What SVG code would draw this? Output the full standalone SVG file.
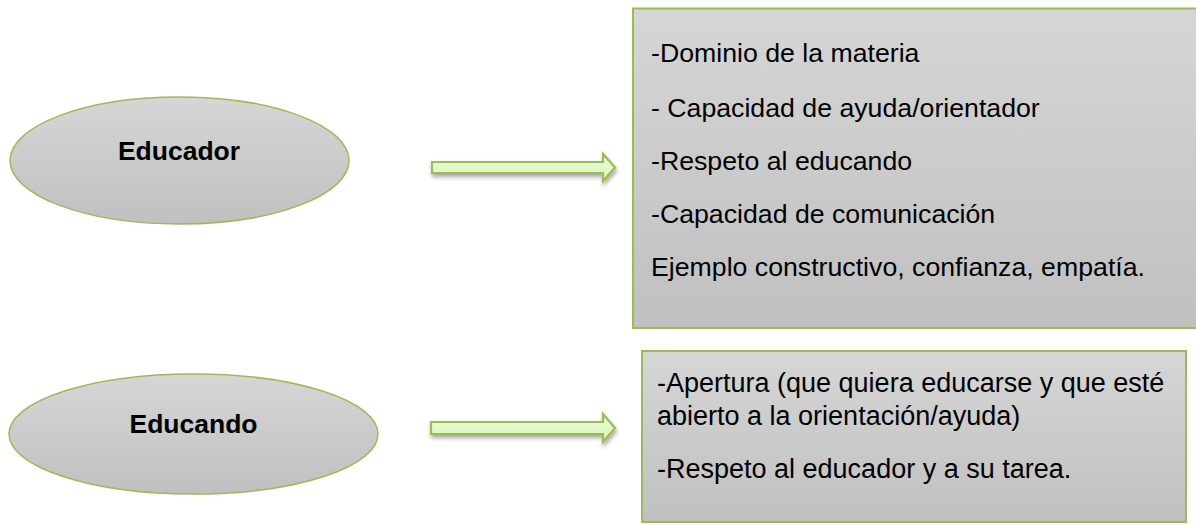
<svg xmlns="http://www.w3.org/2000/svg" width="1196" height="525" viewBox="0 0 1196 525">
  <defs>
    <linearGradient id="gGray" x1="0" y1="0" x2="0" y2="1">
      <stop offset="0" stop-color="#d6d6d6"/>
      <stop offset="1" stop-color="#c0c0c0"/>
    </linearGradient>
    <linearGradient id="gGreen" x1="0" y1="0" x2="0" y2="1">
      <stop offset="0" stop-color="#eafcd6"/>
      <stop offset="1" stop-color="#d9f6b9"/>
    </linearGradient>
    <filter id="shadow" x="-10%" y="-50%" width="120%" height="220%">
      <feDropShadow dx="1" dy="3" stdDeviation="2" flood-color="#000" flood-opacity="0.35"/>
    </filter>
  </defs>
  <style>
    .ell { fill: url(#gGray); stroke: #9bbb59; stroke-width: 1.5; }
    .box { fill: url(#gGray); stroke: #9bbb59; stroke-width: 2; }
    .arrow { fill: url(#gGreen); stroke: #9bbb59; stroke-width: 2.2; stroke-linejoin: miter; filter: url(#shadow); }
    .title { font-family: "Liberation Sans", Arial, sans-serif; font-weight: bold; font-size: 26.5px; fill: #000; text-anchor: middle; }
    .body { font-family: "Liberation Sans", Arial, sans-serif; font-size: 26.7px; fill: #000; }
    .body2 { font-family: "Liberation Sans", Arial, sans-serif; font-size: 27px; fill: #000; }
  </style>
  <rect width="1196" height="525" fill="#fff"/>

  <g id="educador">
    <ellipse class="ell" cx="179.5" cy="160.5" rx="169.5" ry="63.5"/>
    <text class="title" x="179" y="160">Educador</text>
  </g>

  <g id="educador-rasgos">
    <rect class="box" x="633" y="8.5" width="580" height="319.5"/>
    <text class="body" x="651" y="62">-Dominio de la materia</text>
    <text class="body" x="651" y="117">- Capacidad de ayuda/orientador</text>
    <text class="body" x="651" y="170">-Respeto al educando</text>
    <text class="body" x="651" y="223">-Capacidad de comunicación</text>
    <text class="body" x="651" y="276">Ejemplo constructivo, confianza, empatía.</text>
  </g>

  <g id="educando">
    <ellipse class="ell" cx="193.5" cy="434" rx="184.5" ry="60"/>
    <text class="title" x="193.5" y="433">Educando</text>
  </g>

  <g id="educando-rasgos">
    <rect class="box" x="642" y="351" width="544" height="171"/>
    <text class="body2" x="657" y="392">-Apertura (que quiera educarse y que esté</text>
    <text class="body2" x="657" y="425">abierto a la orientación/ayuda)</text>
    <text class="body2" x="657" y="478">-Respeto al educador y a su tarea.</text>
  </g>

  <g id="connectors">
    <path class="arrow" d="M432,162 L603,162 L603,154 L615,167.5 L603,181 L603,173 L432,173 Z"/>
    <path class="arrow" d="M431,422 L603,422 L603,414 L615,428 L603,442 L603,434 L431,434 Z"/>
  </g>
</svg>
